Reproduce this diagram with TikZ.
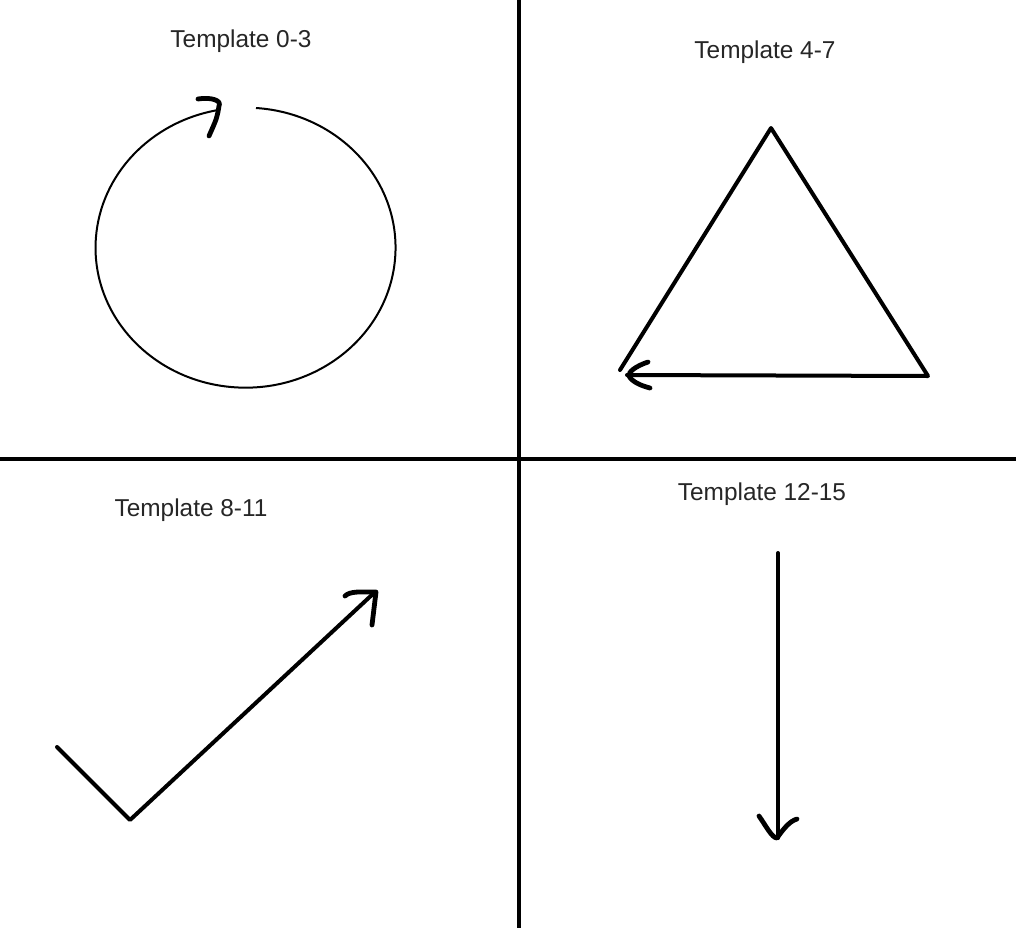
\documentclass[tikz,border=0pt]{standalone}
\usepackage{fontspec}
\setmainfont{Liberation Sans}
\begin{document}
\begin{tikzpicture}[x=0.75pt,y=-0.75pt,
  divider/.style={line width=2.4pt},
  thin/.style={line width=1.5pt},
  stroke/.style={line width=3pt, line cap=round, line join=round},
  head/.style={line width=3.6pt, line cap=round, line join=round},
  label/.style={font=\fontsize{18.3}{21}\selectfont, text=black!85}]
\useasboundingbox[fill=white] (0,0) rectangle (1016,931);
% dividers
\coordinate (vt) at (519,0);
\coordinate (vb) at (519,928);
\coordinate (hl) at (0,459);
\coordinate (hr) at (1016,459);
\draw[divider] (vt) -- (vb);
\draw[divider] (hl) -- (hr);
% labels
\node[label] (t0) at (241,41) {Template 0-3};
\node[label] (t4) at (765,52) {Template 4-7};
\node[label] (t8) at (191,510) {Template 8-11};
\node[label] (t12) at (762,494) {Template 12-15};
% circle
\coordinate (cc) at (246,246);
\draw[thin] (256,108) arc[start angle=-86, end angle=259, x radius=150, y radius=140];
\coordinate (ch1) at (198,99);
\coordinate (ch2) at (219,106);
\coordinate (ch3) at (209,136);
\draw[head] (ch1) .. controls (210,97) and (222,100) .. (ch2) .. controls (217,118) .. (ch3);
% triangle
\coordinate (ta) at (771,128);
\coordinate (tr) at (928,376);
\coordinate (tl) at (620,370);
\coordinate (tb) at (627,375);
\draw[stroke] (tl) -- (ta) -- (tr) -- (tb);
\draw[head] (648,362) .. controls (636,366) and (628,372) .. (629,376) .. controls (632,382) and (642,386) .. (650,388);
% check
\coordinate (k1) at (57,747);
\coordinate (k2) at (130,820);
\coordinate (k3) at (375,592);
\draw[stroke] (k1) -- (k2) -- (k3);
\draw[head] (345,596) .. controls (350,591) and (360,592) .. (376,592) -- (372,625);
% down arrow
\coordinate (d1) at (778,553);
\coordinate (d2) at (778,838);
\draw[stroke] (d1) -- (d2);
\draw[head] (759,816) .. controls (766,826) and (772,838) .. (777,838) .. controls (784,828) and (790,821) .. (797,819);
\end{tikzpicture}
\end{document}
